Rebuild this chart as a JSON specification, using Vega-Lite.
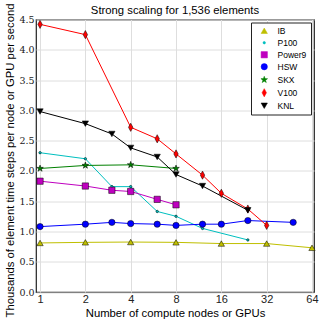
{
  "$schema": "https://vega.github.io/schema/vega-lite/v6.json",
  "width": 278,
  "height": 272.5,
  "autosize": {"type": "none"},
  "padding": {"left": 36, "top": 19.5, "right": 6, "bottom": 33},
  "background": "white",
  "title": {"text": "Strong scaling for 1,536 elements", "font": "Liberation Sans", "fontSize": 11.3, "fontWeight": "normal", "color": "#000", "offset": 3, "dy": 17.5},
  "config": {
    "view": {"stroke": "#222", "strokeWidth": 1.2},
    "axis": {"grid": true, "gridColor": "#dedede", "gridWidth": 1, "domain": false, "ticks": false, "titleFont": "Liberation Sans", "titleFontWeight": "normal", "titleColor": "#000", "labelColor": "#222"},
    "legend": {"orient": "top-right", "offset": 3, "fillColor": "white", "strokeColor": "#222", "strokeWidth": 1, "padding": 4, "labelFont": "Liberation Sans", "labelFontSize": 8.5, "labelColor": "#000", "symbolSize": 40, "symbolStrokeWidth": 0.5, "symbolOffset": 5, "labelOffset": 9, "rowPadding": 3, "cornerRadius": 0}
  },
  "data": {"values": [
    {"sys": "IB", "n": 1, "v": 0.81},
    {"sys": "IB", "n": 2, "v": 0.82},
    {"sys": "IB", "n": 4, "v": 0.825},
    {"sys": "IB", "n": 8, "v": 0.82},
    {"sys": "IB", "n": 16, "v": 0.80},
    {"sys": "IB", "n": 32, "v": 0.80},
    {"sys": "IB", "n": 64, "v": 0.73},
    {"sys": "P100", "n": 1, "v": 2.30},
    {"sys": "P100", "n": 2, "v": 2.20},
    {"sys": "P100", "n": 3, "v": 1.74},
    {"sys": "P100", "n": 4, "v": 1.74},
    {"sys": "P100", "n": 6, "v": 1.33},
    {"sys": "P100", "n": 8, "v": 1.25},
    {"sys": "P100", "n": 12, "v": 1.05},
    {"sys": "P100", "n": 24, "v": 0.86},
    {"sys": "Power9", "n": 1, "v": 1.83},
    {"sys": "Power9", "n": 2, "v": 1.75},
    {"sys": "Power9", "n": 3, "v": 1.68},
    {"sys": "Power9", "n": 4, "v": 1.66},
    {"sys": "Power9", "n": 6, "v": 1.53},
    {"sys": "Power9", "n": 8, "v": 1.44},
    {"sys": "HSW", "n": 1, "v": 1.08},
    {"sys": "HSW", "n": 2, "v": 1.12},
    {"sys": "HSW", "n": 3, "v": 1.15},
    {"sys": "HSW", "n": 4, "v": 1.13},
    {"sys": "HSW", "n": 6, "v": 1.12},
    {"sys": "HSW", "n": 8, "v": 1.10},
    {"sys": "HSW", "n": 12, "v": 1.12},
    {"sys": "HSW", "n": 16, "v": 1.12},
    {"sys": "HSW", "n": 24, "v": 1.18},
    {"sys": "HSW", "n": 48, "v": 1.15},
    {"sys": "SKX", "n": 1, "v": 2.04},
    {"sys": "SKX", "n": 2, "v": 2.09},
    {"sys": "SKX", "n": 4, "v": 2.10},
    {"sys": "SKX", "n": 8, "v": 2.04},
    {"sys": "V100", "n": 1, "v": 4.42},
    {"sys": "V100", "n": 2, "v": 4.25},
    {"sys": "V100", "n": 4, "v": 2.72},
    {"sys": "V100", "n": 6, "v": 2.53},
    {"sys": "V100", "n": 8, "v": 2.28},
    {"sys": "V100", "n": 12, "v": 1.93},
    {"sys": "V100", "n": 16, "v": 1.63},
    {"sys": "V100", "n": 24, "v": 1.37},
    {"sys": "V100", "n": 32, "v": 1.10},
    {"sys": "KNL", "n": 1, "v": 2.98},
    {"sys": "KNL", "n": 2, "v": 2.78},
    {"sys": "KNL", "n": 3, "v": 2.61},
    {"sys": "KNL", "n": 4, "v": 2.38},
    {"sys": "KNL", "n": 6, "v": 2.23},
    {"sys": "KNL", "n": 8, "v": 1.94},
    {"sys": "KNL", "n": 12, "v": 1.75},
    {"sys": "KNL", "n": 24, "v": 1.35}
  ]},
  "encoding": {
    "x": {"field": "n", "type": "quantitative",
      "scale": {"type": "log", "base": 2, "domain": [0.94, 66], "nice": false},
      "axis": {"values": [1, 2, 4, 8, 16, 32, 64], "format": "d", "title": "Number of compute nodes or GPUs", "titleFontSize": 11.3, "titlePadding": 3, "labelFont": "Liberation Sans", "labelFontSize": 11, "labelPadding": 1, "labelFlush": false}},
    "y": {"field": "v", "type": "quantitative",
      "scale": {"domain": [0, 4.5], "nice": false, "zero": true},
      "axis": {"values": [0, 0.5, 1, 1.5, 2, 2.5, 3, 3.5, 4, 4.5], "format": ".1f", "title": "Thousands of element  time steps per node or GPU per second", "titleFontSize": 11.3, "titlePadding": 3, "titleY": 140.5, "labelFont": "DejaVu Serif", "labelFontSize": 9.5, "labelPadding": 2}},
    "color": {"field": "sys", "type": "nominal", "title": null,
      "scale": {"domain": ["IB", "P100", "Power9", "HSW", "SKX", "V100", "KNL"],
        "range": ["#bfbf00", "#00bfbf", "#bf00bf", "#0000ff", "#008000", "#ff0000", "#000000"]}}
  },
  "layer": [
    {"mark": {"type": "line", "strokeWidth": 1}},
    {"mark": {"type": "point", "filled": true, "opacity": 1, "size": 40, "stroke": "#000", "strokeWidth": 0.5},
     "encoding": {
       "shape": {"field": "sys", "type": "nominal", "title": null,
         "scale": {"domain": ["IB", "P100", "Power9", "HSW", "SKX", "V100", "KNL"],
           "range": ["triangle-up", "M-0.4,0 A0.4,0.4 0 1,0 0.4,0 A0.4,0.4 0 1,0 -0.4,0 Z", "square", "circle", "M0,-1.1 L0.26,-0.36 L1.05,-0.34 L0.42,0.14 L0.65,0.89 L0,0.44 L-0.65,0.89 L-0.42,0.14 L-1.05,-0.34 L-0.26,-0.36 Z", "M0,-1.3 L0.7,0 L0,1.3 L-0.7,0 Z", "triangle-down"]}}
     }}
  ]
}
